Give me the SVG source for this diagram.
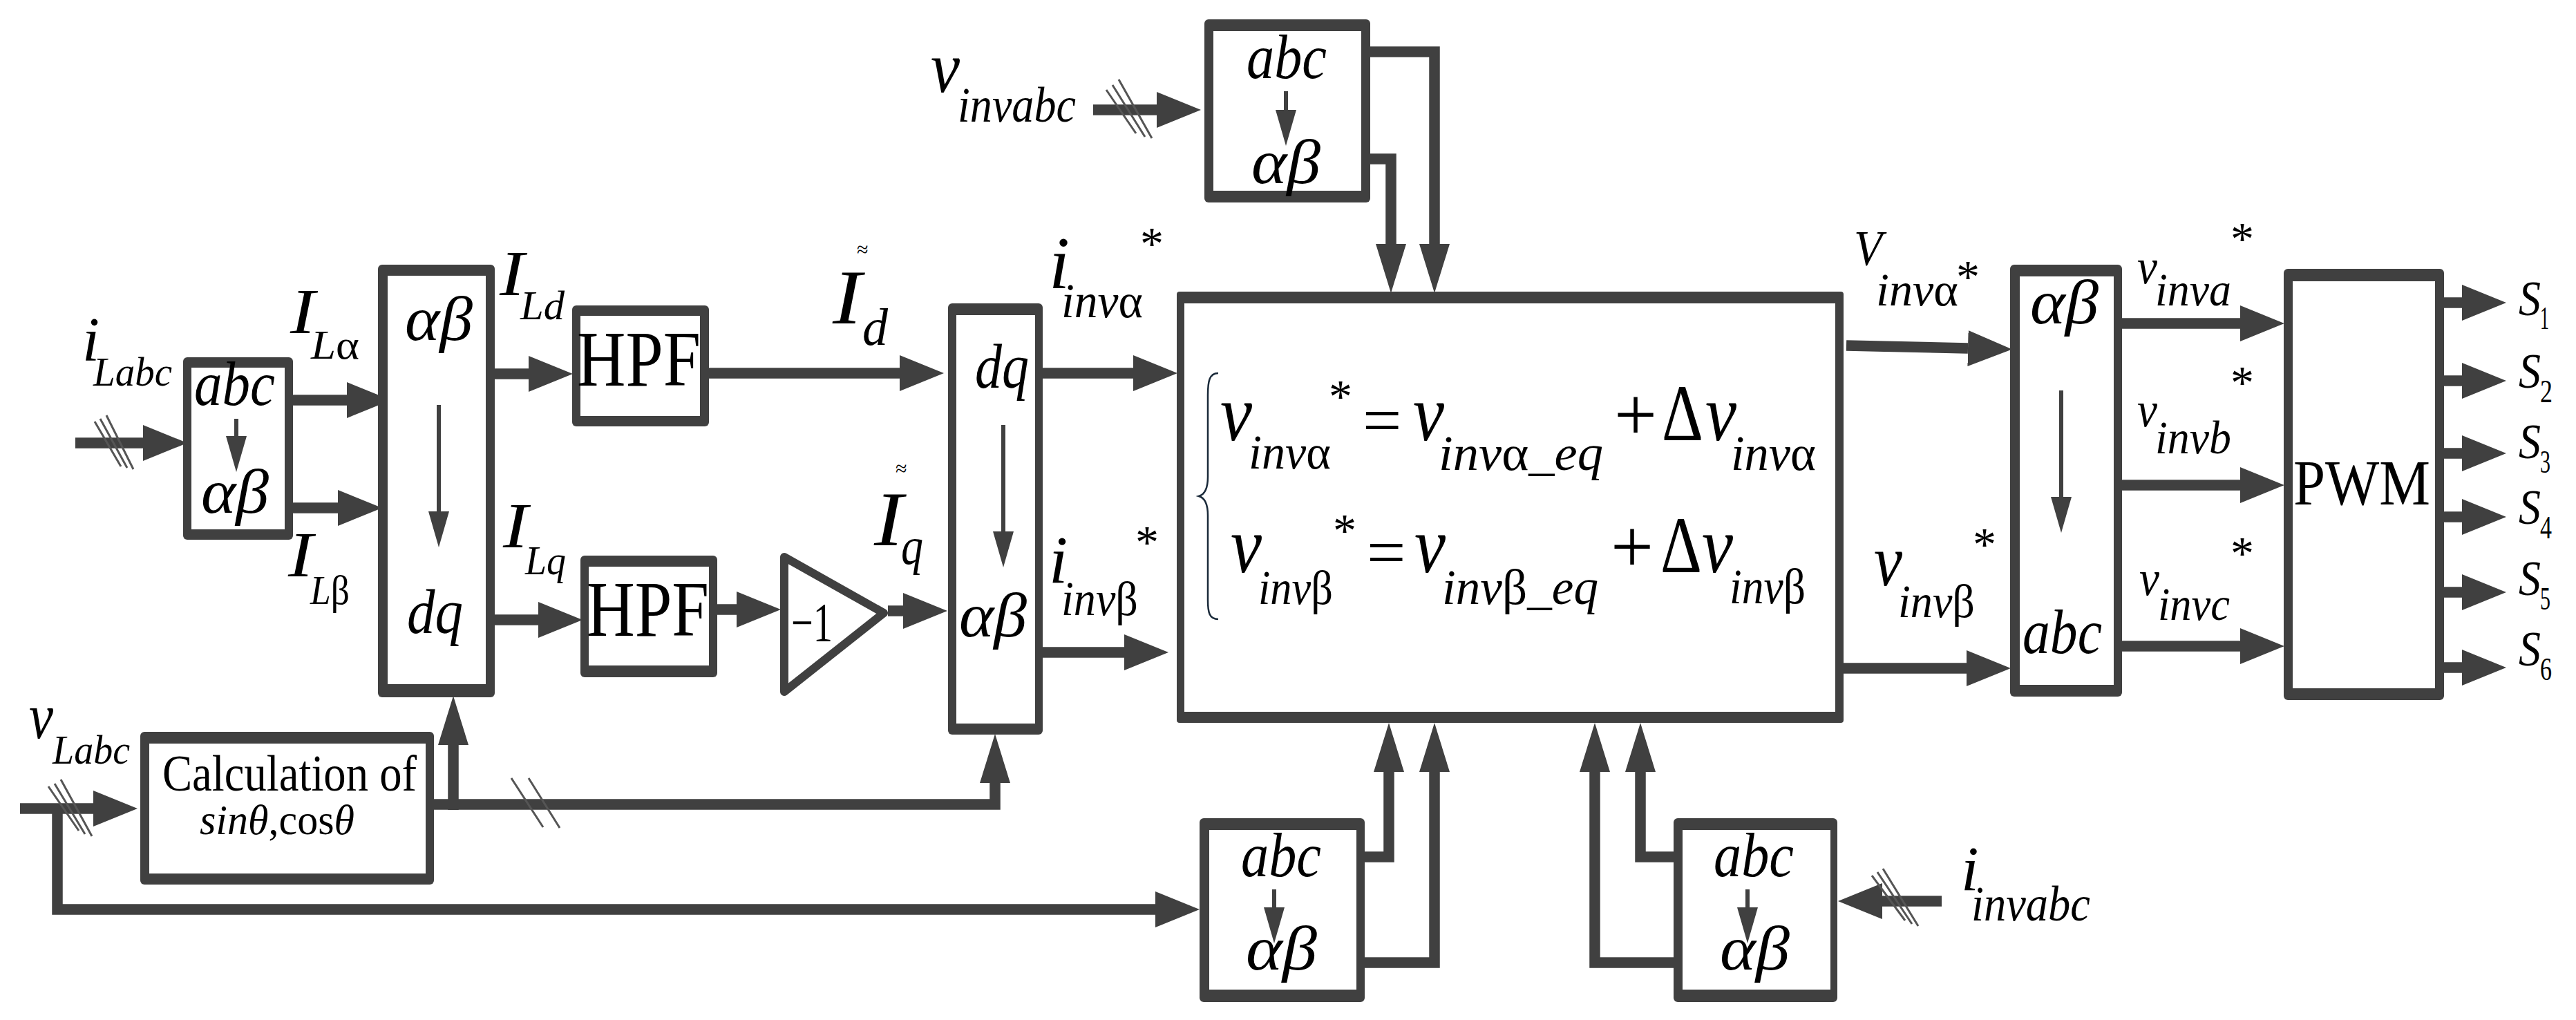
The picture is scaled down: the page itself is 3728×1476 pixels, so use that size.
<svg xmlns="http://www.w3.org/2000/svg" width="3728" height="1476" viewBox="0 0 3728 1476">
<style>
text{font-family:"Liberation Serif","Times New Roman",serif;fill:#000}
.i{font-style:italic}
.u{font-style:normal}
.o{fill:#404040}
.n{fill:#fff}
.c{fill:none;stroke:#404040;stroke-width:15.5;stroke-linejoin:miter}
.s{fill:none;stroke:#404040;stroke-width:6}
.k{fill:none;stroke:#555;stroke-width:3}
.h{fill:#404040}
.thin{fill:none;stroke:#1a2a3a;stroke-width:2.5}
</style>
<defs>
<marker id="ah" markerUnits="userSpaceOnUse" markerWidth="70" markerHeight="54" refX="0" refY="27" orient="auto"><path class="h" d="M0,1 L64,27 L0,53Z"/></marker>
<marker id="av" markerUnits="userSpaceOnUse" markerWidth="76" markerHeight="48" refX="0" refY="24" orient="auto"><path class="h" d="M0,2 L71,24 L0,46Z"/></marker>
<marker id="as" markerUnits="userSpaceOnUse" markerWidth="56" markerHeight="34" refX="0" refY="17" orient="auto"><path class="h" d="M0,2 L52,17 L0,32Z"/></marker>
</defs>
<rect width="3728" height="1476" fill="#fff"/>

<g id="connectors">
<path class="c" d="M109,641 H207" marker-end="url(#ah)"/>
<path class="c" d="M424,579 H502" marker-end="url(#ah)"/>
<path class="c" d="M424,735 H489" marker-end="url(#ah)"/>
<path class="c" d="M716,541 H765" marker-end="url(#ah)"/>
<path class="c" d="M716,897 H779" marker-end="url(#ah)"/>
<path class="c" d="M1026,540 H1302" marker-end="url(#ah)"/>
<path class="c" d="M1038,882 H1066" marker-end="url(#ah)"/>
<path class="c" d="M1285,884 H1307" marker-end="url(#ah)"/>
<path class="c" d="M1509,540 H1640" marker-end="url(#ah)"/>
<path class="c" d="M1509,944 H1627" marker-end="url(#ah)"/>
<path class="c" d="M29,1170 H135" marker-end="url(#ah)"/>
<path class="c" d="M628,1164 H1440 V1133" marker-end="url(#av)"/>
<path class="c" d="M656,1172 V1078" marker-end="url(#av)"/>
<path class="c" d="M83,1170 V1316 H1672" marker-end="url(#ah)"/>
<path class="c" d="M1582,159 H1674" marker-end="url(#ah)"/>
<path class="c" d="M1983,75 H2076 V353" marker-end="url(#av)"/>
<path class="c" d="M1983,230 H2013 V353" marker-end="url(#av)"/>
<path class="c" d="M1975,1240 H2010 V1117" marker-end="url(#av)"/>
<path class="c" d="M1975,1393 H2076 V1117" marker-end="url(#av)"/>
<path class="c" d="M2422,1240 H2374 V1117" marker-end="url(#av)"/>
<path class="c" d="M2422,1393 H2308 V1117" marker-end="url(#av)"/>
<path class="c" d="M2810,1304 H2724" marker-end="url(#ah)"/>
<path class="c" d="M2672,500 L2848,504" marker-end="url(#ah)"/>
<path class="c" d="M2668,967 H2846" marker-end="url(#ah)"/>
<path class="c" d="M3071,468 H3242" marker-end="url(#ah)"/>
<path class="c" d="M3071,702 H3242" marker-end="url(#ah)"/>
<path class="c" d="M3071,935 H3242" marker-end="url(#ah)"/>
<path class="c" d="M3537,438 H3563" marker-end="url(#ah)"/>
<path class="c" d="M3537,551 H3563" marker-end="url(#ah)"/>
<path class="c" d="M3537,656 H3563" marker-end="url(#ah)"/>
<path class="c" d="M3537,748 H3563" marker-end="url(#ah)"/>
<path class="c" d="M3537,857 H3563" marker-end="url(#ah)"/>
<path class="c" d="M3537,966 H3563" marker-end="url(#ah)"/>
<path class="k" d="M137,610 L175,675 M145,606 L184,677 M154,601 L193,679"/>
<path class="k" d="M70,1138 L114,1202 M79,1134 L123,1207 M88,1128 L133,1210"/>
<path class="k" d="M740,1126 L786,1197 M765,1126 L810,1198"/>
<path class="k" d="M1601,130 L1644,193 M1610,123 L1657,198 M1619,115 L1667,200"/>
<path class="k" d="M2709,1267 L2757,1332 M2717,1262 L2767,1337 M2725,1257 L2776,1340"/>
</g>

<g id="abc-ab-load">
<rect class="o" x="265" y="517" width="159" height="264" rx="6"/><rect class="n" x="277" y="532" width="135" height="234"/>
<text class="i" x="281" y="586" font-size="92" textLength="117" lengthAdjust="spacingAndGlyphs">abc</text>
<path class="s" d="M342,606 V631" marker-end="url(#as)"/>
<text class="i" x="291" y="742" font-size="92" textLength="98" lengthAdjust="spacingAndGlyphs">αβ</text>
</g>
<g id="ab-dq">
<rect class="o" x="547" y="383" width="169" height="626" rx="6"/><rect class="n" x="561" y="399" width="142" height="591"/>
<text class="i" x="586" y="492" font-size="92" textLength="98" lengthAdjust="spacingAndGlyphs">αβ</text>
<path class="s" d="M635,586 V740" marker-end="url(#as)"/>
<text class="i" x="589" y="916" font-size="92" textLength="81" lengthAdjust="spacingAndGlyphs">dq</text>
</g>
<g id="hpf-d">
<rect class="o" x="828" y="442" width="198" height="175" rx="6"/><rect class="n" x="840" y="457" width="173" height="145"/>
<text x="835" y="558" font-size="114" textLength="179" lengthAdjust="spacingAndGlyphs">HPF</text>
</g>
<g id="hpf-q">
<rect class="o" x="840" y="804" width="198" height="176" rx="6"/><rect class="n" x="852" y="820" width="174" height="143"/>
<text x="849" y="920" font-size="114" textLength="177" lengthAdjust="spacingAndGlyphs">HPF</text>
</g>
<g id="gain">
<path d="M1135,806 L1279,887 L1135,1001Z" fill="#fff" stroke="#404040" stroke-width="12" stroke-linejoin="round"/>
<text x="1145" y="928" font-size="80" textLength="60" lengthAdjust="spacingAndGlyphs">−1</text>
</g>
<g id="dq-ab">
<rect class="o" x="1372" y="439" width="137" height="624" rx="6"/><rect class="n" x="1384" y="456" width="114" height="591"/>
<text class="i" x="1411" y="561" font-size="92" textLength="78" lengthAdjust="spacingAndGlyphs">dq</text>
<path class="s" d="M1452,615 V769" marker-end="url(#as)"/>
<text class="i" x="1388" y="921" font-size="92" textLength="98" lengthAdjust="spacingAndGlyphs">αβ</text>
</g>
<g id="calc">
<rect class="o" x="203" y="1059" width="425" height="221" rx="6"/><rect class="n" x="216" y="1076" width="400" height="188"/>
<text x="235" y="1144" font-size="75" textLength="368" lengthAdjust="spacingAndGlyphs">Calculation of</text>
<text x="289" y="1207" font-size="62" textLength="224" lengthAdjust="spacingAndGlyphs"><tspan class="i">sinθ</tspan>,cos<tspan class="i">θ</tspan></text>
</g>
<g id="abc-ab-vinv">
<rect class="o" x="1743" y="28" width="240" height="265" rx="6"/><rect class="n" x="1756" y="45" width="214" height="231"/>
<text class="i" x="1804" y="113" font-size="92" textLength="116" lengthAdjust="spacingAndGlyphs">abc</text>
<path class="s" d="M1861,132 V159" marker-end="url(#as)"/>
<text class="i" x="1811" y="265" font-size="92" textLength="100" lengthAdjust="spacingAndGlyphs">αβ</text>
</g>
<g id="abc-ab-vl">
<rect class="o" x="1736" y="1184" width="239" height="266" rx="6"/><rect class="n" x="1750" y="1201" width="213" height="231"/>
<text class="i" x="1796" y="1268" font-size="92" textLength="116" lengthAdjust="spacingAndGlyphs">abc</text>
<path class="s" d="M1844,1287 V1313" marker-end="url(#as)"/>
<text class="i" x="1803" y="1403" font-size="92" textLength="103" lengthAdjust="spacingAndGlyphs">αβ</text>
</g>
<g id="abc-ab-iinv">
<rect class="o" x="2422" y="1184" width="237" height="266" rx="6"/><rect class="n" x="2435" y="1201" width="214" height="231"/>
<text class="i" x="2480" y="1268" font-size="92" textLength="116" lengthAdjust="spacingAndGlyphs">abc</text>
<path class="s" d="M2529,1287 V1313" marker-end="url(#as)"/>
<text class="i" x="2489" y="1403" font-size="92" textLength="101" lengthAdjust="spacingAndGlyphs">αβ</text>
</g>
<g id="controller">
<rect class="o" x="1703" y="422" width="965" height="624" rx="4"/><rect class="n" x="1714" y="439" width="942" height="591"/>
<path class="thin" d="M1763,540 C1750,540 1748,552 1748,572 L1748,690 C1748,708 1742,716 1735,718 C1742,720 1748,728 1748,746 L1748,868 C1748,886 1750,896 1763,896"/>
<text class="i" x="1766" y="637" font-size="116" textLength="46" lengthAdjust="spacingAndGlyphs">v</text>
<text class="i" x="1807" y="678" font-size="70" textLength="119" lengthAdjust="spacingAndGlyphs">inv<tspan class="u">α</tspan></text>
<text x="1923" y="596" font-size="68">*</text>
<text x="1972" y="642" font-size="100">=</text>
<text class="i" x="2045" y="637" font-size="116" textLength="45" lengthAdjust="spacingAndGlyphs">v</text>
<text class="i" x="2082" y="680" font-size="72" textLength="238" lengthAdjust="spacingAndGlyphs">inv<tspan class="u">α</tspan>_eq</text>
<text x="2336" y="637" font-size="110">+</text>
<text x="2405" y="637" font-size="116" textLength="60" lengthAdjust="spacingAndGlyphs">Δ</text>
<text class="i" x="2468" y="637" font-size="116" textLength="45" lengthAdjust="spacingAndGlyphs">v</text>
<text class="i" x="2505" y="680" font-size="72" textLength="123" lengthAdjust="spacingAndGlyphs">inv<tspan class="u">α</tspan></text>
<text class="i" x="1781" y="828" font-size="116" textLength="45" lengthAdjust="spacingAndGlyphs">v</text>
<text class="i" x="1821" y="874" font-size="70" textLength="108" lengthAdjust="spacingAndGlyphs">inv<tspan class="u">β</tspan></text>
<text x="1929" y="790" font-size="68">*</text>
<text x="1978" y="833" font-size="100">=</text>
<text class="i" x="2047" y="828" font-size="116" textLength="45" lengthAdjust="spacingAndGlyphs">v</text>
<text class="i" x="2087" y="874" font-size="72" textLength="226" lengthAdjust="spacingAndGlyphs">inv<tspan class="u">β</tspan>_eq</text>
<text x="2331" y="828" font-size="110">+</text>
<text x="2403" y="828" font-size="116" textLength="60" lengthAdjust="spacingAndGlyphs">Δ</text>
<text class="i" x="2463" y="828" font-size="116" textLength="45" lengthAdjust="spacingAndGlyphs">v</text>
<text class="i" x="2503" y="873" font-size="72" textLength="110" lengthAdjust="spacingAndGlyphs">inv<tspan class="u">β</tspan></text>
</g>
<g id="ab-abc">
<rect class="o" x="2909" y="383" width="162" height="625" rx="6"/><rect class="n" x="2923" y="400" width="136" height="591"/>
<text class="i" x="2938" y="468" font-size="92" textLength="99" lengthAdjust="spacingAndGlyphs">αβ</text>
<path class="s" d="M2983,565 V719" marker-end="url(#as)"/>
<text class="i" x="2927" y="945" font-size="92" textLength="115" lengthAdjust="spacingAndGlyphs">abc</text>
</g>
<g id="pwm">
<rect class="o" x="3305" y="389" width="232" height="624" rx="6"/><rect class="n" x="3318" y="407" width="206" height="589"/>
<text x="3319" y="730" font-size="94" textLength="198" lengthAdjust="spacingAndGlyphs">PWM</text>
</g>

<g id="labels">
<text class="i" x="119" y="522" font-size="90">i</text>
<text class="i" x="135" y="558" font-size="60" textLength="114" lengthAdjust="spacingAndGlyphs">Labc</text>
<text class="i" x="420" y="482" font-size="94" textLength="36" lengthAdjust="spacingAndGlyphs">I</text>
<text class="i" x="450" y="519" font-size="60" textLength="70" lengthAdjust="spacingAndGlyphs">L<tspan class="u">α</tspan></text>
<text class="i" x="417" y="834" font-size="94" textLength="36" lengthAdjust="spacingAndGlyphs">I</text>
<text class="i" x="449" y="874" font-size="60" textLength="57" lengthAdjust="spacingAndGlyphs">L<tspan class="u">β</tspan></text>
<text class="i" x="723" y="427" font-size="94" textLength="36" lengthAdjust="spacingAndGlyphs">I</text>
<text class="i" x="753" y="462" font-size="60" textLength="64" lengthAdjust="spacingAndGlyphs">Ld</text>
<text class="i" x="728" y="792" font-size="94" textLength="36" lengthAdjust="spacingAndGlyphs">I</text>
<text class="i" x="760" y="831" font-size="60" textLength="59" lengthAdjust="spacingAndGlyphs">Lq</text>
<text class="i" x="42" y="1068" font-size="93" textLength="35" lengthAdjust="spacingAndGlyphs">v</text>
<text class="i" x="76" y="1105" font-size="60" textLength="112" lengthAdjust="spacingAndGlyphs">Labc</text>
<text x="1240" y="371" font-size="30">≈</text>
<text class="i" x="1205" y="468" font-size="112" textLength="42" lengthAdjust="spacingAndGlyphs">I</text>
<text class="i" x="1248" y="499" font-size="76" textLength="37" lengthAdjust="spacingAndGlyphs">d</text>
<text x="1296" y="688" font-size="30">≈</text>
<text class="i" x="1265" y="789" font-size="112" textLength="42" lengthAdjust="spacingAndGlyphs">I</text>
<text class="i" x="1304" y="816" font-size="76" textLength="32" lengthAdjust="spacingAndGlyphs">q</text>
<text class="i" x="1518" y="417" font-size="108">i</text>
<text class="i" x="1536" y="459" font-size="70" textLength="118" lengthAdjust="spacingAndGlyphs">inv<tspan class="u">α</tspan></text>
<text x="1650" y="375" font-size="68">*</text>
<text class="i" x="1518" y="843" font-size="98">i</text>
<text class="i" x="1536" y="890" font-size="70" textLength="111" lengthAdjust="spacingAndGlyphs">inv<tspan class="u">β</tspan></text>
<text x="1643" y="807" font-size="68">*</text>
<text class="i" x="1347" y="133" font-size="105" textLength="42" lengthAdjust="spacingAndGlyphs">v</text>
<text class="i" x="1386" y="176" font-size="72" textLength="171" lengthAdjust="spacingAndGlyphs">invabc</text>
<text class="i" x="2838" y="1288" font-size="92">i</text>
<text class="i" x="2853" y="1332" font-size="72" textLength="172" lengthAdjust="spacingAndGlyphs">invabc</text>
<text class="i" x="2683" y="383" font-size="71" textLength="41" lengthAdjust="spacingAndGlyphs">V</text>
<text class="i" x="2715" y="442" font-size="68" textLength="119" lengthAdjust="spacingAndGlyphs">inv<tspan class="u">α</tspan></text>
<text x="2831" y="423" font-size="68">*</text>
<text class="i" x="2712" y="847" font-size="105" textLength="41" lengthAdjust="spacingAndGlyphs">v</text>
<text class="i" x="2747" y="893" font-size="68" textLength="111" lengthAdjust="spacingAndGlyphs">inv<tspan class="u">β</tspan></text>
<text x="2855" y="810" font-size="68">*</text>
<text class="i" x="3093" y="410" font-size="72" textLength="29" lengthAdjust="spacingAndGlyphs">v</text>
<text class="i" x="3119" y="442" font-size="68" textLength="110" lengthAdjust="spacingAndGlyphs">inva</text>
<text x="3228" y="368" font-size="68">*</text>
<text class="i" x="3093" y="617" font-size="72" textLength="29" lengthAdjust="spacingAndGlyphs">v</text>
<text class="i" x="3119" y="656" font-size="68" textLength="110" lengthAdjust="spacingAndGlyphs">invb</text>
<text x="3228" y="576" font-size="68">*</text>
<text class="i" x="3096" y="861" font-size="72" textLength="29" lengthAdjust="spacingAndGlyphs">v</text>
<text class="i" x="3123" y="897" font-size="68" textLength="104" lengthAdjust="spacingAndGlyphs">invc</text>
<text x="3228" y="823" font-size="68">*</text>
<text class="i" x="3645" y="456" font-size="72" textLength="32" lengthAdjust="spacingAndGlyphs">S</text><text x="3676" y="476" font-size="46" textLength="13" lengthAdjust="spacingAndGlyphs">1</text>
<text class="i" x="3645" y="561" font-size="72" textLength="32" lengthAdjust="spacingAndGlyphs">S</text><text x="3676" y="582" font-size="46" textLength="18" lengthAdjust="spacingAndGlyphs">2</text>
<text class="i" x="3645" y="663" font-size="72" textLength="32" lengthAdjust="spacingAndGlyphs">S</text><text x="3676" y="684" font-size="46" textLength="15" lengthAdjust="spacingAndGlyphs">3</text>
<text class="i" x="3645" y="758" font-size="72" textLength="32" lengthAdjust="spacingAndGlyphs">S</text><text x="3676" y="779" font-size="46" textLength="17" lengthAdjust="spacingAndGlyphs">4</text>
<text class="i" x="3645" y="861" font-size="72" textLength="32" lengthAdjust="spacingAndGlyphs">S</text><text x="3676" y="882" font-size="46" textLength="15" lengthAdjust="spacingAndGlyphs">5</text>
<text class="i" x="3645" y="963" font-size="72" textLength="32" lengthAdjust="spacingAndGlyphs">S</text><text x="3676" y="984" font-size="46" textLength="17" lengthAdjust="spacingAndGlyphs">6</text>
</g>
</svg>
